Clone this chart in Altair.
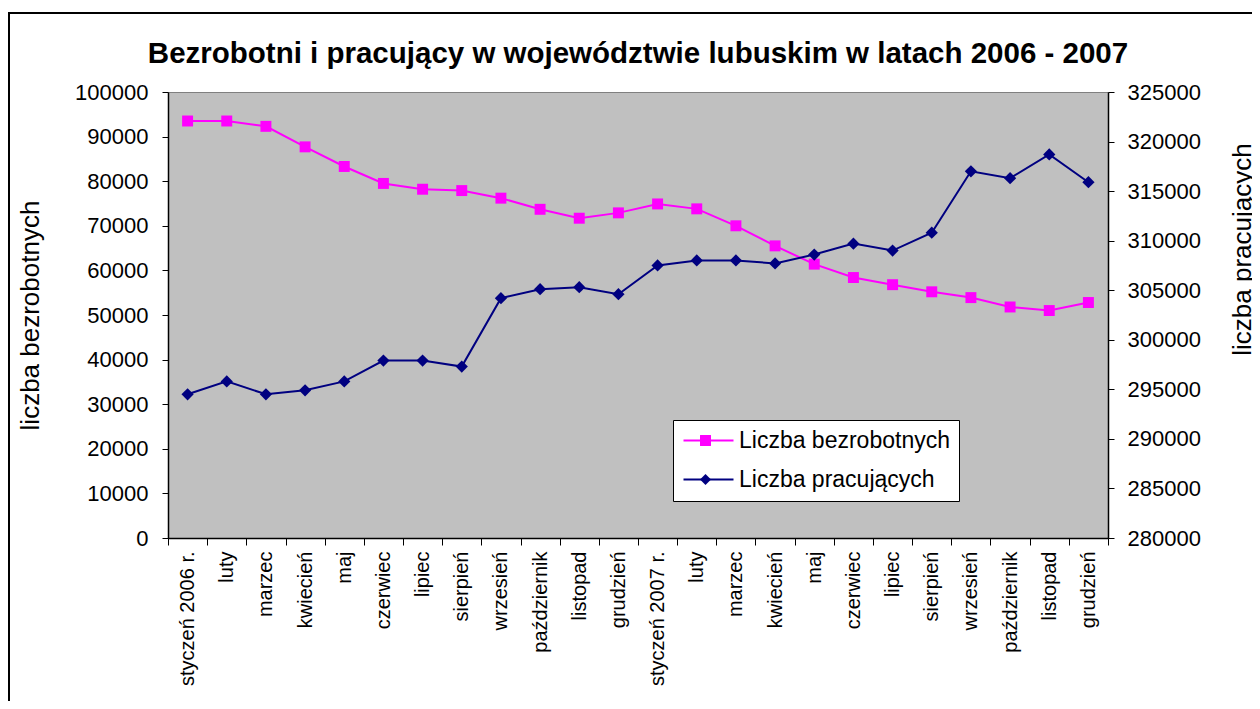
import json
import altair as alt
import pandas as pd

months = ["styczeń 2006 r.", "luty", "marzec", "kwiecień", "maj", "czerwiec",
          "lipiec", "sierpień", "wrzesień", "październik", "listopad", "grudzień",
          "styczeń 2007 r.", "luty", "marzec", "kwiecień", "maj", "czerwiec",
          "lipiec", "sierpień", "wrzesień", "październik", "listopad", "grudzień"]

bezrobotni = [93500, 93500, 92300, 87700, 83300, 79500, 78200, 77900, 76200, 73700, 71700, 72900,
              74900, 73800, 70000, 65500, 61400, 58400, 56800, 55200, 53900, 51800, 51000, 52800]

pracujacy = [294500, 295800, 294500, 294900, 295800, 297900, 297900, 297300, 304200, 305100, 305300, 304600,
             307500, 308000, 308000, 307700, 308600, 309700, 309000, 310800, 317000, 316300, 318700, 315900]

series_names = ["Liczba bezrobotnych", "Liczba pracujących"]
series_colors = ["#FF00FF", "#000080"]
series_shapes = ["square", "diamond"]

rows = []
for i in range(len(months)):
    rows.append({"idx": i, "series": series_names[0], "value": bezrobotni[i]})
    rows.append({"idx": i, "series": series_names[1], "value": pracujacy[i]})
df = pd.DataFrame(rows)

FONT = "Liberation Sans"
label_expr = json.dumps(months, ensure_ascii=False) + "[datum.value]"

LEG_X, LEG_Y = 505, 328
LEG_FS = 23

# legend with the line part of each entry (and the visible labels, white box)
legend_lines = alt.Legend(
    orient="none", legendX=LEG_X, legendY=LEG_Y, title=None,
    symbolType="M-1,0H4", symbolSize=400, symbolStrokeWidth=2,
    labelFont=FONT, labelFontSize=LEG_FS, labelColor="black", labelLimit=400,
    labelOffset=34, rowPadding=15, padding=9,
    fillColor="white", strokeColor="black", zindex=1,
)
# legend with the markers only (empty labels), drawn on top of the first one
legend_marks = alt.Legend(
    orient="none", legendX=LEG_X, legendY=LEG_Y, title=None,
    symbolSize=120, symbolStrokeWidth=0, symbolOffset=12,
    labelFont=FONT, labelFontSize=LEG_FS, labelExpr="''", labelLimit=400,
    labelOffset=34, rowPadding=15, padding=9, zindex=2,
)

color = alt.Color("series:N",
                  scale=alt.Scale(domain=series_names, range=series_colors),
                  legend=legend_lines)
fill = alt.Fill("series:N", scale=alt.Scale(range=series_colors), legend=legend_marks)
shape = alt.Shape("series:N", scale=alt.Scale(range=series_shapes), legend=legend_marks)

x_enc = alt.X("idx:O", bandPosition=0.5,
              scale=alt.Scale(type="band", paddingInner=0, paddingOuter=0),
              axis=alt.Axis(title=None, labelExpr=label_expr, labelAngle=270,
                            labelAlign="right", labelBaseline="middle",
                            labelFont=FONT, labelFontSize=20, labelColor="black",
                            labelPadding=6, tickSize=7, tickBand="extent",
                            tickColor="black", domainColor="black", domainWidth=1.5,
                            grid=False))

y_left = alt.Y("value:Q",
               scale=alt.Scale(domain=[0, 100000], nice=False),
               axis=alt.Axis(values=list(range(0, 100001, 10000)), format="d",
                             labelFont=FONT, labelFontSize=22, labelColor="black",
                             labelPadding=14, tickSize=6, tickColor="black",
                             domainColor="black", domainWidth=1.5, grid=False,
                             title="liczba bezrobotnych", titleFont=FONT,
                             titleFontSize=26, titleFontWeight="normal", titleColor="black",
                             titleAngle=270, titleX=-125, titleY=223,
                             titleBaseline="bottom", titleAlign="center"))

y_right = alt.Y("value:Q",
                scale=alt.Scale(domain=[280000, 325000], nice=False),
                axis=alt.Axis(orient="right", values=list(range(280000, 325001, 5000)), format="d",
                              labelFont=FONT, labelFontSize=22, labelColor="black",
                              labelPadding=13, tickSize=6, tickColor="black",
                              domainColor="black", domainWidth=1.5, grid=False,
                              title="liczba pracujących", titleFont=FONT,
                              titleFontSize=26, titleFontWeight="normal", titleColor="black",
                              titleAngle=270, titleX=121, titleY=157,
                              titleBaseline="top", titleAlign="center"))

pink = alt.Chart(df).transform_filter(alt.datum.series == series_names[0])
blue = alt.Chart(df).transform_filter(alt.datum.series == series_names[1])

left = alt.layer(
    pink.mark_line(strokeWidth=2).encode(x=x_enc, y=y_left, color=color),
    pink.mark_point(filled=True, size=120, opacity=1).encode(x=x_enc, y=y_left, fill=fill, shape=shape),
)
right = alt.layer(
    blue.mark_line(strokeWidth=2).encode(x=x_enc, y=y_right, color=color),
    blue.mark_point(filled=True, size=150, opacity=1).encode(x=x_enc, y=y_right, fill=fill, shape=shape),
)

frame_data = alt.Data(values=[{"k": 1}])
top_border = alt.Chart(frame_data).mark_rule(color="black", strokeWidth=2).encode(
    x=alt.value(-161), x2=alt.value(1300), y=alt.value(-79), y2=alt.value(-79))
left_border = alt.Chart(frame_data).mark_rule(color="black", strokeWidth=2).encode(
    x=alt.value(-159), x2=alt.value(-159), y=alt.value(-80), y2=alt.value(700))

chart = alt.layer(left, right, top_border, left_border).resolve_scale(
    y="independent"
).properties(
    width=940, height=446,
    background="white",
    autosize=alt.AutoSizeParams(type="none"),
    padding={"left": 160, "top": 84, "right": 144, "bottom": 163},
    title=alt.TitleParams(
        "Bezrobotni i pracujący w województwie lubuskim w latach 2006 - 2007",
        font=FONT, fontSize=29.5, fontWeight="bold", color="black",
        anchor="middle", frame="group", offset=-87, baseline="bottom"),
).configure_view(
    fill="#C0C0C0", stroke="#808080", strokeWidth=1
)

chart.save("out.html", embed_options={"renderer": "svg", "actions": False})
